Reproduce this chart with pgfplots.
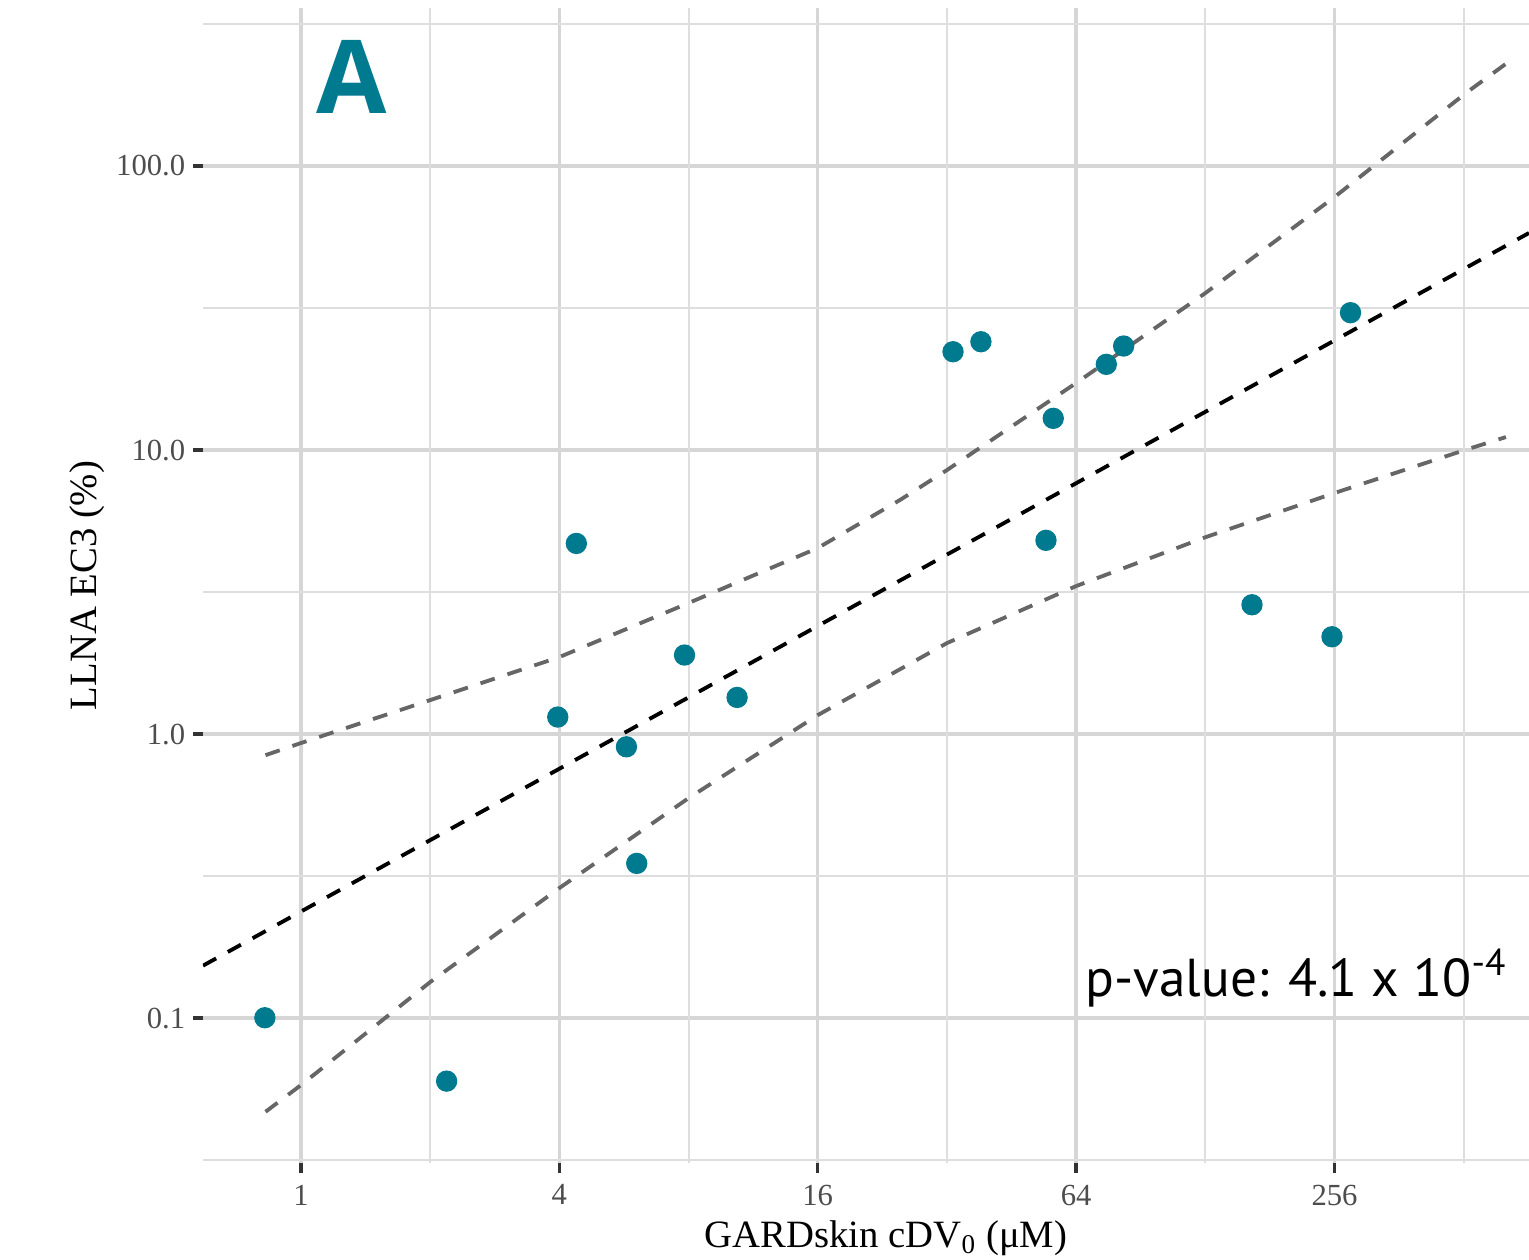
\documentclass[border=0pt]{standalone}
\usepackage{fontspec}
\setmainfont{Liberation Serif}
\newfontfamily\pfont{PT Sans}
\newfontfamily\afont{Open Sans}
\usepackage{pgfplots}
\pgfplotsset{compat=1.18}
\usetikzlibrary{calc}
\definecolor{ptcol}{HTML}{007A8E}
\definecolor{cigray}{HTML}{666666}
\definecolor{gridc}{HTML}{D6D6D6}
\definecolor{tickc}{HTML}{4D4D4D}

\begin{document}
\begin{tikzpicture}
\useasboundingbox (-60.9pt,-29.1pt) rectangle (397.8pt,348.9pt);
\begin{axis}[
  scale only axis, width=397.8pt, height=346.5pt,
  xmode=log, log basis x=2, ymode=log,
  xmin=0.5913, xmax=726.6, ymin=0.0309, ymax=360,
  xtick={1,4,16,64,256}, xticklabels={1,4,16,64,256},
  extra x ticks={2,8,32,128,512}, extra x tick labels={},
  extra x tick style={major tick length=0pt,
    major grid style={draw=gridc!80!white, line width=0.6pt}},
  ytick={0.1,1,10,100}, yticklabels={0.1,1.0,10.0,100.0},
  minor ytick={0.0316228,0.316228,3.16228,31.6228,316.228},
  grid=both,
  major grid style={draw=gridc, line width=1pt},
  minor grid style={draw=gridc!80!white, line width=0.6pt},
  axis line style={draw=none},
  tick pos=left, tick align=outside,
  major tick length=3pt, minor tick length=0pt,
  major tick style={draw=black!80, line width=1pt},
  ticklabel style={font=\fontsize{9.2}{11}\selectfont, text=tickc},
  yticklabel style={xshift=1.2pt},
  xlabel={GARDskin cDV\textsubscript{0} (μM)},
  ylabel={LLNA EC3 (\%)},
  label style={font=\fontsize{11.6}{14}\selectfont},
  xlabel style={at={(rel axis cs:0.5151,0)}, anchor=base, yshift=-25.2pt},
  ylabel style={at={($(rel axis cs:0,0.5)+(-31.9pt,0pt)$)}, anchor=base},
]
% regression line
\addplot[black, line width=1.15pt, dash pattern=on 4.5pt off 4pt]
  coordinates {(0.5913,0.153)(726.6,58.1)};
% confidence band, upper
\addplot[cigray, line width=1.15pt, dash pattern=on 4.5pt off 4pt] coordinates {
  (0.827,0.843)(1,0.930)(2,1.317)(4,1.867)(8,2.893)(16,4.518)(24.87,6.67)
  (32,8.50)(64,17.22)(128,35.7)(256,77.8)(518,180.7)(642,229)};
% confidence band, lower
\addplot[cigray, line width=1.15pt, dash pattern=on 4.5pt off 4pt] coordinates {
  (0.827,0.0468)(1,0.0581)(2,0.1339)(4,0.2870)(8,0.595)(16,1.166)
  (32,2.091)(64,3.320)(128.4,4.94)(256,7.06)(515,10.0)(642,11.11)};
% chemicals
\addplot[only marks, ptcol, mark=*, mark size=3pt, mark options={draw=ptcol, fill=ptcol}] coordinates {
  (0.824,0.1003)(2.185,0.0600)(3.966,1.148)(4.382,4.69)(5.733,0.902)
  (6.059,0.3505)(7.83,1.898)(10.38,1.346)(33.06,22.19)(38.40,24.06)
  (54.43,4.81)(56.6,12.93)(75.25,20.03)(82.58,23.24)(164.4,2.853)
  (252.5,2.201)(278.9,30.45)};
\node[font=\afont\bfseries\fontsize{30.6}{32}\selectfont, text=ptcol, anchor=base, inner sep=0pt]
  at (rel axis cs:0.1124,0.909) {A};
\node[font=\pfont\fontsize{16}{18}\selectfont, anchor=base east, inner sep=0pt]
  at (rel axis cs:0.984,0.144) {p-value: 4.1 x 10\textsuperscript{-4}};
\end{axis}
\end{tikzpicture}
\end{document}
